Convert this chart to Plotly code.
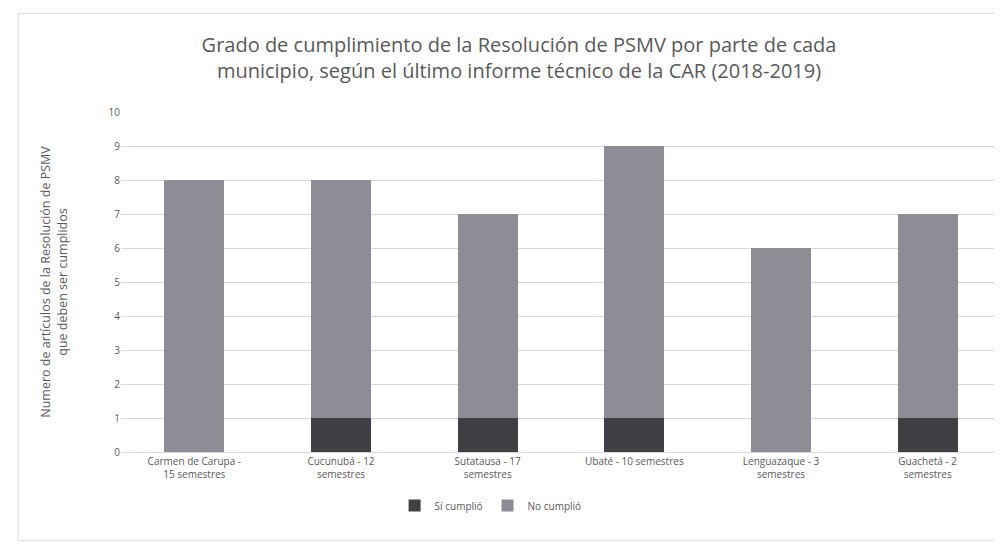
import plotly.graph_objects as go

categories = [
    "Carmen de Carupa -<br>15 semestres",
    "Cucunubá - 12<br>semestres",
    "Sutatausa - 17<br>semestres",
    "Ubaté - 10 semestres",
    "Lenguazaque - 3<br>semestres",
    "Guachetá - 2<br>semestres",
]
si_cumplio = [0, 1, 1, 1, 0, 1]
no_cumplio = [8, 7, 6, 8, 6, 6]
y_ticks = list(range(0, 11))

fig = go.Figure()
fig.add_trace(go.Bar(name="Sí cumplió", x=categories, y=si_cumplio,
                     marker=dict(color="#3f3f44", line=dict(width=0))))
fig.add_trace(go.Bar(name="No cumplió", x=categories, y=no_cumplio,
                     marker=dict(color="#8d8d95", line=dict(width=0))))

fig.update_layout(
    barmode="stack",
    bargap=0.59,
    width=1002, height=549,
    paper_bgcolor="white", plot_bgcolor="white",
    margin=dict(l=113, r=9, t=104, b=105, autoexpand=False),
    font=dict(family="Open Sans, Liberation Sans, sans-serif", color="#595959"),
    title=dict(
        text="Grado de cumplimiento de la Resolución de PSMV por parte de cada<br>municipio, según el último informe técnico de la CAR (2018-2019)",
        x=0.51, xanchor="center", y=0.92, yanchor="top",
        font=dict(size=20, color="#595959"),
    ),
    legend=dict(orientation="h", x=0.42, xanchor="center", y=-0.115, yanchor="top",
                font=dict(size=10, color="#595959"), traceorder="normal"),
    xaxis=dict(tickfont=dict(size=10, color="#595959"), showline=True,
               linecolor="#d9d9d9", ticks=""),
    yaxis=dict(range=[0, 10], tickvals=y_ticks, tickfont=dict(size=10, color="#595959"),
               showgrid=True, gridcolor="#d9d9d9", zeroline=False,
               title=dict(text="Numero de artículos de la Resolución de PSMV<br>que deben ser cumplidos",
                          font=dict(size=12.5, color="#595959"), standoff=38)),
    shapes=[dict(type="rect", xref="paper", yref="paper", x0=-0.117, x1=0.995, y0=-0.26, y1=1.29,
                 line=dict(color="#d9d9d9", width=1))],
)

fig.write_html("out.html")
